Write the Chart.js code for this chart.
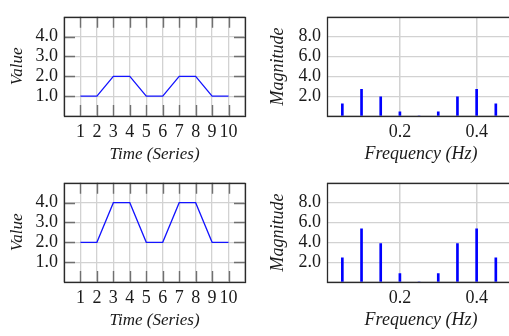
<!DOCTYPE html>
<html>
<head>
<meta charset="utf-8">
<script src="https://cdn.jsdelivr.net/npm/chart.js@4.4.1/dist/chart.umd.min.js"></script>
<style>
  html, body { margin: 0; padding: 0; background: #fff; overflow: hidden; width: 509px; height: 336px; }
  canvas { position: absolute; }
</style>
</head>
<body>
<canvas id="c1" width="250" height="168" style="left:0;top:0"></canvas>
<canvas id="c2" width="266" height="168" style="left:250px;top:0"></canvas>
<canvas id="c3" width="250" height="168" style="left:0;top:166px"></canvas>
<canvas id="c4" width="266" height="168" style="left:250px;top:166px"></canvas>
<script>
// ---- data ----
const timeSteps = [1, 2, 3, 4, 5, 6, 7, 8, 9, 10];
const seriesTop = [1, 1, 2, 2, 1, 1, 2, 2, 1, 1];
const seriesBottom = [2, 2, 4, 4, 2, 2, 4, 4, 2, 2];
const frequencies = [0.05, 0.10, 0.15, 0.20, 0.25, 0.30, 0.35, 0.40, 0.45];
const magnitudeTop = [1.22, 2.69, 1.94, 0.43, 0.0, 0.43, 1.94, 2.69, 1.22];
const magnitudeBottom = [2.44, 5.36, 3.88, 0.84, 0.0, 0.84, 3.88, 5.36, 2.44];
const valueTicks = [1, 2, 3, 4];
const magnitudeTicks = [2, 4, 6, 8];
const freqTicks = [0.2, 0.4];

const SERIF = "'Liberation Serif', 'Times New Roman', serif";
const GRID = '#d2d2d2';
const TXT = '#1a1a1a';

const framePlugin = {
  id: 'frame',
  beforeDatasetsDraw(chart, args, opts) {
    if (!opts.innerTicks) return;
    const {ctx, chartArea: a, scales} = chart;
    const L = 11;
    ctx.save();
    ctx.strokeStyle = '#707070';
    ctx.lineWidth = 1.4;
    ctx.beginPath();
    timeSteps.forEach(v => {
      const p = Math.round(scales.x.getPixelForValue(v)) + 0.5;
      ctx.moveTo(p, a.top); ctx.lineTo(p, a.top + L);
      ctx.moveTo(p, a.bottom); ctx.lineTo(p, a.bottom - L);
    });
    valueTicks.forEach(v => {
      const p = Math.round(scales.y.getPixelForValue(v)) + 0.5;
      ctx.moveTo(a.left, p); ctx.lineTo(a.left + L, p);
      ctx.moveTo(a.right, p); ctx.lineTo(a.right - L, p);
    });
    ctx.stroke();
    ctx.restore();
  },
  afterDraw(chart) {
    const {ctx, chartArea: a} = chart;
    ctx.save();
    ctx.strokeStyle = '#2a2a2a';
    ctx.lineWidth = 1.3;
    ctx.strokeRect(Math.round(a.left) + 0.5, Math.round(a.top) + 0.5,
      Math.round(a.right - a.left), Math.round(a.bottom - a.top));
    ctx.restore();
  }
};

function lineChart(id, values) {
  new Chart(document.getElementById(id), {
    type: 'line',
    data: {
      datasets: [{
        data: timeSteps.map((t, i) => ({x: t, y: values[i]})),
        borderColor: '#1414ff',
        borderWidth: 1.3,
        pointRadius: 0,
        tension: 0,
        fill: false
      }]
    },
    options: {
      responsive: false,
      animation: false,
      events: [],
      layout: {padding: {top: 8, right: 2, bottom: 0, left: 0}},
      plugins: {legend: {display: false}, tooltip: {enabled: false}, frame: {innerTicks: true}},
      scales: {
        x: {
          type: 'linear', min: 0, max: 11,
          afterFit(s) { s.height = 52; },
          grid: {color: GRID, lineWidth: 1.3, drawTicks: false},
          border: {display: false},
          ticks: {
            stepSize: 1, padding: 5, color: TXT, maxRotation: 0, autoSkip: false,
            font: {family: SERIF, size: 18},
            callback: v => timeSteps.includes(v) ? String(v) : ''
          },
          title: {display: true, text: 'Time (Series)', color: TXT,
            font: {family: SERIF, size: 17, style: 'italic'}, padding: {top: 0, bottom: 3}}
        },
        y: {
          type: 'linear', min: 0, max: 5,
          afterFit(s) { s.width = 64; },
          grid: {color: GRID, lineWidth: 1.3, drawTicks: false},
          border: {display: false},
          ticks: {
            stepSize: 1, padding: 6, color: TXT, autoSkip: false,
            font: {family: SERIF, size: 18},
            callback: v => valueTicks.includes(v) ? v.toFixed(1) : ''
          },
          title: {display: true, text: 'Value', color: TXT,
            font: {family: SERIF, size: 17, style: 'italic'}, padding: {top: 7, bottom: 0}}
        }
      }
    },
    plugins: [framePlugin]
  });
}

function barChart(id, values) {
  new Chart(document.getElementById(id), {
    type: 'bar',
    data: {
      datasets: [{
        data: frequencies.map((f, i) => ({x: f, y: values[i]})),
        backgroundColor: '#0000ff',
        borderWidth: 0,
        barThickness: 2
      }]
    },
    options: {
      responsive: false,
      animation: false,
      events: [],
      layout: {padding: {top: 8, right: 1, bottom: 0, left: 0}},
      plugins: {legend: {display: false}, tooltip: {enabled: false}, frame: {innerTicks: false}},
      scales: {
        x: {
          type: 'linear', min: 0.01, max: 0.5, offset: false,
          afterFit(s) { s.height = 52; },
          grid: {color: GRID, lineWidth: 1.5, drawTicks: false, offset: false},
          border: {display: false},
          ticks: {
            stepSize: 0.2, includeBounds: false, padding: 5, color: TXT, maxRotation: 0, autoSkip: false,
            font: {family: SERIF, size: 18},
            callback: v => freqTicks.some(f => Math.abs(f - v) < 1e-6) ? v.toFixed(1) : ''
          },
          title: {display: true, text: 'Frequency (Hz)', color: TXT,
            font: {family: SERIF, size: 18, style: 'italic'}, padding: {top: 0, bottom: 3}}
        },
        y: {
          type: 'linear', min: 0, max: 10,
          afterFit(s) { s.width = 77; },
          grid: {color: GRID, lineWidth: 1.3, drawTicks: false},
          border: {display: false},
          ticks: {
            stepSize: 2, padding: 6, color: TXT, autoSkip: false,
            font: {family: SERIF, size: 18},
            callback: v => magnitudeTicks.includes(v) ? v.toFixed(1) : ''
          },
          title: {display: true, text: 'Magnitude', color: TXT,
            font: {family: SERIF, size: 18, style: 'italic'}, padding: {top: 17, bottom: 0}}
        }
      }
    },
    plugins: [framePlugin]
  });
}

lineChart('c1', seriesTop);
barChart('c2', magnitudeTop);
lineChart('c3', seriesBottom);
barChart('c4', magnitudeBottom);
</script>
</body>
</html>
